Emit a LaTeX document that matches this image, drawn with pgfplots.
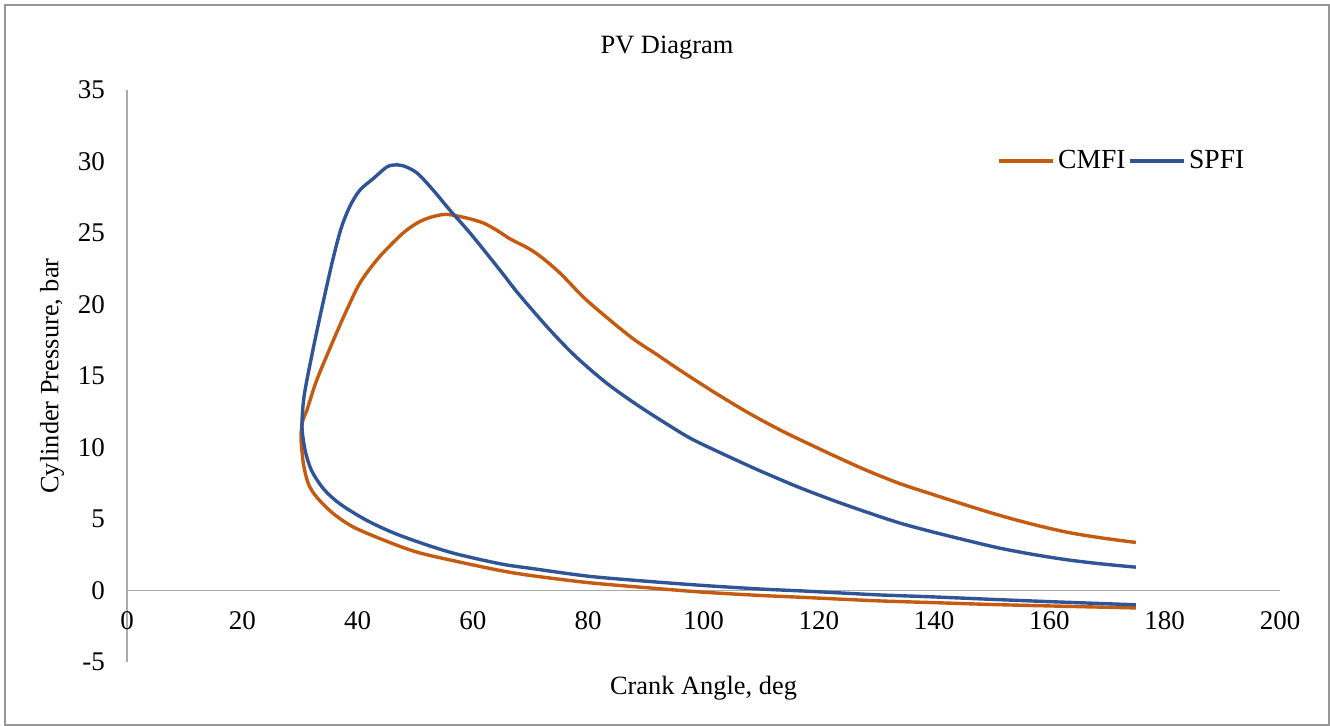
\documentclass[border=0pt]{standalone}
\usepackage{pgfplots}
\pgfplotsset{compat=1.18}
\usepackage{fontspec}
\setmainfont{Liberation Serif}
\definecolor{cmfi}{RGB}{197,90,17}
\definecolor{spfi}{RGB}{47,85,151}
\definecolor{axgray}{RGB}{170,170,170}
\definecolor{bordergray}{RGB}{150,150,150}
\begin{document}
\begin{tikzpicture}
\useasboundingbox (0,0) rectangle (665pt,363pt);
\draw[bordergray, line width=0.6pt] (2.5pt,0.5pt) rectangle (664.5pt,360.5pt);
\node[font=\fontsize{13.2}{16}\selectfont] at (333.5pt,339pt) {PV Diagram};
\begin{axis}[
  at={(63.5pt,32pt)}, anchor=south west,
  scale only axis, width=576.5pt, height=286pt,
  xmin=0, xmax=200, ymin=-5, ymax=35,
  axis x line=middle, axis y line=left,
  axis line style={draw=axgray, line width=0.6pt, -},
  xtick={0,20,...,200}, ytick={-5,0,...,35},
  major tick length=0pt,
  hide obscured x ticks=false, hide obscured y ticks=false,
  /pgf/number format/assume math mode=true,
  tick label style={font=\fontsize{13.5}{16}\selectfont},
  xticklabel style={yshift=-7pt},
  yticklabel style={xshift=-7.5pt},
  xlabel={Crank Angle, deg},
  ylabel={Cylinder Pressure, bar},
  label style={font=\fontsize{13.2}{16}\selectfont},
  x label style={at={(axis description cs:0.5,0)}, anchor=center, yshift=-13pt},
  y label style={at={(axis description cs:0,0.5)}, anchor=center, yshift=37.5pt},
  legend style={at={(0.972,0.902)}, anchor=north east, draw=none, fill=none,
    font=\fontsize{13.8}{16}\selectfont, inner sep=0pt, nodes={inner xsep=1.5pt}},
  legend columns=2,
  legend cell align=left,
  /tikz/every even column/.append style={column sep=0pt},
  legend image code/.code={\draw[#1,line width=1.7pt] (0pt,0pt) -- (27pt,0pt);},
]
\addplot[cmfi, line width=1.7pt, smooth, no markers] coordinates {
(175,-1.22) (160,-1.08) (150,-0.98) (140,-0.85) (130,-0.72) (116.7,-0.47) (110,-0.35)
(100,-0.12) (90,0.2) (80,0.55) (70,1.05) (64.7,1.4) (57.8,1.98) (50.3,2.68)
(44.5,3.53) (39.3,4.43) (35.8,5.37) (32.9,6.53) (31.45,7.47) (30.6,8.87) (30.18,10.73)
(30.5,11.9) (31.2,12.6) (32.9,14.7) (35.8,17.5) (38.1,19.6) (40.4,21.5) (43.3,23.1)
(46.2,24.35) (48.5,25.2) (50.8,25.8) (53.1,26.15) (55.5,26.3) (58.9,26.05) (61.8,25.7)
(64.1,25.2) (66.4,24.6) (69.3,24.0) (71.6,23.4) (75.1,22.2) (79.2,20.5) (83.2,19.1)
(87.8,17.6) (91.9,16.5) (96.5,15.25) (102.3,13.75) (108.1,12.35) (113.9,11.1) (119.6,10.0)
(122.5,9.45) (128.3,8.4) (134.1,7.47) (139.9,6.70) (145.7,5.95) (151.4,5.25)
(157.2,4.62) (163.0,4.08) (168.8,3.69) (175,3.36)
};
\addlegendentry{CMFI}
\addplot[spfi, line width=1.7pt, smooth, no markers] coordinates {
(175,-1.0) (160,-0.78) (150,-0.62) (140,-0.45) (130,-0.3) (118,-0.05) (110,0.1)
(100,0.35) (90,0.65) (80,1.0) (70,1.55) (64.7,1.87) (56,2.68) (47.35,3.85) (41.6,4.9)
(36.9,6.07) (34.1,7.1) (32.0,8.4) (30.9,9.8) (30.35,11.43) (30.6,13.2) (31.2,14.7)
(32.6,17.5) (34.1,20.3) (35.8,23.3) (37.2,25.4) (38.7,26.9) (40.4,28.0) (42.7,28.8)
(45.0,29.6) (46.2,29.75) (47.9,29.7) (50.3,29.2) (53.1,28.0) (56.0,26.6) (59.5,25.0)
(64.7,22.4) (68,20.7) (73.4,18.2) (78,16.3) (83.2,14.5) (88.4,13.0) (93.6,11.65)
(97.7,10.65) (102.3,9.75) (108.5,8.6) (112.5,7.9) (116.7,7.19) (122.5,6.30)
(128.3,5.48) (134.1,4.71) (139.9,4.08) (145.7,3.50) (151.4,2.96) (157.2,2.52)
(163.0,2.15) (168.8,1.87) (175,1.63)
};
\addlegendentry{SPFI}
\end{axis}
\end{tikzpicture}
\end{document}
